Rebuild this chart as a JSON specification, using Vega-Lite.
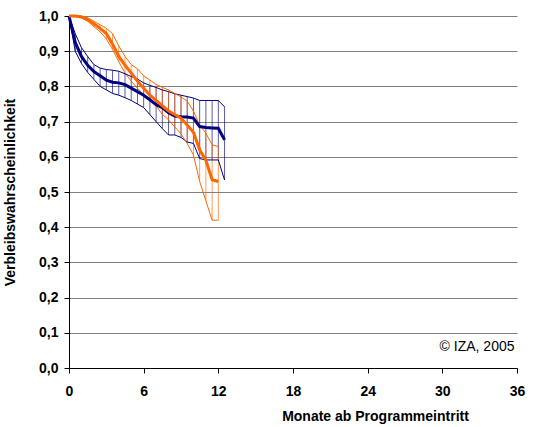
{
  "$schema": "https://vega.github.io/schema/vega-lite/v6.json",
  "width": 448,
  "height": 352,
  "autosize": "none",
  "padding": {"left": 69, "top": 16, "right": 19, "bottom": 59},
  "background": "white",
  "config": {
    "view": {"stroke": null},
    "axis": {
      "labelFont": "Liberation Sans",
      "labelFontWeight": "bold",
      "labelFontSize": 14,
      "labelColor": "#000000",
      "titleFont": "Liberation Sans",
      "titleFontWeight": "bold",
      "titleFontSize": 14,
      "titleColor": "#000000",
      "domainColor": "#000000",
      "tickColor": "#000000",
      "tickSize": 5
    }
  },
  "data": {
    "values": [
      {"s": "A", "m": 0, "lo": 1.0, "mid": 1.0, "hi": 1.0},
      {"s": "A", "m": 0.5, "lo": 0.9, "mid": 0.925, "hi": 0.95},
      {"s": "A", "m": 1.0, "lo": 0.865, "mid": 0.885, "hi": 0.91},
      {"s": "A", "m": 1.5, "lo": 0.84, "mid": 0.86, "hi": 0.885},
      {"s": "A", "m": 2.0, "lo": 0.82, "mid": 0.842, "hi": 0.862},
      {"s": "A", "m": 2.5, "lo": 0.8, "mid": 0.83, "hi": 0.852},
      {"s": "A", "m": 3.0, "lo": 0.79, "mid": 0.818, "hi": 0.848},
      {"s": "A", "m": 3.5, "lo": 0.78, "mid": 0.812, "hi": 0.846},
      {"s": "A", "m": 4.0, "lo": 0.775, "mid": 0.81, "hi": 0.843},
      {"s": "A", "m": 4.5, "lo": 0.768, "mid": 0.805, "hi": 0.836},
      {"s": "A", "m": 5.0, "lo": 0.76, "mid": 0.795, "hi": 0.828},
      {"s": "A", "m": 5.5, "lo": 0.75, "mid": 0.785, "hi": 0.821},
      {"s": "A", "m": 6.0, "lo": 0.74, "mid": 0.775, "hi": 0.81},
      {"s": "A", "m": 6.5, "lo": 0.72, "mid": 0.762, "hi": 0.803},
      {"s": "A", "m": 7.0, "lo": 0.7, "mid": 0.748, "hi": 0.797},
      {"s": "A", "m": 7.5, "lo": 0.68, "mid": 0.74, "hi": 0.79},
      {"s": "A", "m": 8.0, "lo": 0.662, "mid": 0.725, "hi": 0.785},
      {"s": "A", "m": 8.5, "lo": 0.662, "mid": 0.716, "hi": 0.779},
      {"s": "A", "m": 9.0, "lo": 0.655, "mid": 0.714, "hi": 0.775},
      {"s": "A", "m": 9.5, "lo": 0.642, "mid": 0.713, "hi": 0.771},
      {"s": "A", "m": 10.0, "lo": 0.638, "mid": 0.71, "hi": 0.767},
      {"s": "A", "m": 10.5, "lo": 0.595, "mid": 0.686, "hi": 0.76},
      {"s": "A", "m": 11.0, "lo": 0.591, "mid": 0.683, "hi": 0.76},
      {"s": "A", "m": 11.5, "lo": 0.591, "mid": 0.682, "hi": 0.76},
      {"s": "A", "m": 12.0, "lo": 0.591, "mid": 0.681, "hi": 0.76},
      {"s": "A", "m": 12.5, "lo": 0.534, "mid": 0.648, "hi": 0.742},
      {"s": "B", "m": 0, "lo": 1.0, "mid": 1.0, "hi": 1.0},
      {"s": "B", "m": 0.5, "lo": 1.0, "mid": 1.0, "hi": 1.0},
      {"s": "B", "m": 1.0, "lo": 0.995, "mid": 0.997, "hi": 1.0},
      {"s": "B", "m": 1.5, "lo": 0.985, "mid": 0.99, "hi": 0.995},
      {"s": "B", "m": 2.0, "lo": 0.97, "mid": 0.978, "hi": 0.985},
      {"s": "B", "m": 2.5, "lo": 0.955, "mid": 0.965, "hi": 0.975},
      {"s": "B", "m": 3.0, "lo": 0.935, "mid": 0.95, "hi": 0.965},
      {"s": "B", "m": 3.5, "lo": 0.905, "mid": 0.92, "hi": 0.95},
      {"s": "B", "m": 4.0, "lo": 0.87, "mid": 0.885, "hi": 0.915},
      {"s": "B", "m": 4.5, "lo": 0.838, "mid": 0.86, "hi": 0.885},
      {"s": "B", "m": 5.0, "lo": 0.815, "mid": 0.838, "hi": 0.862},
      {"s": "B", "m": 5.5, "lo": 0.795, "mid": 0.815, "hi": 0.85},
      {"s": "B", "m": 6.0, "lo": 0.777, "mid": 0.795, "hi": 0.83},
      {"s": "B", "m": 6.5, "lo": 0.762, "mid": 0.775, "hi": 0.818},
      {"s": "B", "m": 7.0, "lo": 0.745, "mid": 0.76, "hi": 0.806},
      {"s": "B", "m": 7.5, "lo": 0.72, "mid": 0.745, "hi": 0.797},
      {"s": "B", "m": 8.0, "lo": 0.705, "mid": 0.73, "hi": 0.79},
      {"s": "B", "m": 8.5, "lo": 0.685, "mid": 0.72, "hi": 0.78},
      {"s": "B", "m": 9.0, "lo": 0.665, "mid": 0.71, "hi": 0.77},
      {"s": "B", "m": 9.5, "lo": 0.638, "mid": 0.69, "hi": 0.758},
      {"s": "B", "m": 10.0, "lo": 0.605, "mid": 0.67, "hi": 0.73},
      {"s": "B", "m": 10.5, "lo": 0.53, "mid": 0.62, "hi": 0.69},
      {"s": "B", "m": 11.0, "lo": 0.475, "mid": 0.59, "hi": 0.667},
      {"s": "B", "m": 11.5, "lo": 0.42, "mid": 0.535, "hi": 0.634},
      {"s": "B", "m": 12.0, "lo": 0.42, "mid": 0.53, "hi": 0.629}
    ]
  },
  "encoding": {
    "x": {
      "field": "m", "type": "quantitative",
      "scale": {"domain": [0, 36], "nice": false, "zero": false},
      "axis": {
        "values": [0, 6, 12, 18, 24, 30, 36],
        "grid": false,
        "title": "Monate ab Programmeintritt",
        "labelPadding": 11,
        "titleX": 306,
        "titleY": 52,
        "titleAlign": "center",
        "titleBaseline": "alphabetic",
        "labelFlush": false,
        "labelOverlap": false
      }
    },
    "color": {
      "field": "s", "type": "nominal",
      "scale": {"domain": ["A", "B"], "range": ["#000080", "#FF6600"]},
      "legend": null
    }
  },
  "layer": [
    {
      "mark": {"type": "rule", "strokeWidth": 1, "opacity": 0.65},
      "encoding": {
        "y": {
          "field": "lo", "type": "quantitative",
          "scale": {"domain": [0, 1], "nice": false},
          "axis": {
            "values": [0, 0.1, 0.2, 0.3, 0.4, 0.5, 0.6, 0.7, 0.8, 0.9, 1.0],
            "labelExpr": "replace(format(datum.value, '.1f'), '.', ',')",
            "grid": true, "gridColor": "#808080", "gridWidth": 1, "gridOpacity": 1,
            "title": "Verbleibswahrscheinlichkeit",
            "titleX": -59, "titleY": 176, "titleAlign": "center", "titleBaseline": "middle", "titleAngle": -90,
            "labelPadding": 6, "labelFlush": false, "labelOverlap": false
          }
        },
        "y2": {"field": "hi"}
      }
    },
    {
      "mark": {"type": "line", "strokeWidth": 1},
      "encoding": {
        "y": {
          "field": "lo", "type": "quantitative",
          "axis": {
            "values": [0, 0.1, 0.2, 0.3, 0.4, 0.5, 0.6, 0.7, 0.8, 0.9, 1.0],
            "labelExpr": "replace(format(datum.value, '.1f'), '.', ',')",
            "grid": true, "gridColor": "#808080", "gridWidth": 1, "gridOpacity": 1,
            "title": "Verbleibswahrscheinlichkeit",
            "titleX": -59, "titleY": 176, "titleAlign": "center", "titleBaseline": "middle", "titleAngle": -90,
            "labelPadding": 6, "labelFlush": false, "labelOverlap": false
          }
        },
        "detail": {"field": "s"}
      }
    },
    {
      "mark": {"type": "line", "strokeWidth": 1},
      "encoding": {
        "y": {
          "field": "hi", "type": "quantitative",
          "axis": {
            "values": [0, 0.1, 0.2, 0.3, 0.4, 0.5, 0.6, 0.7, 0.8, 0.9, 1.0],
            "labelExpr": "replace(format(datum.value, '.1f'), '.', ',')",
            "grid": true, "gridColor": "#808080", "gridWidth": 1, "gridOpacity": 1,
            "title": "Verbleibswahrscheinlichkeit",
            "titleX": -59, "titleY": 176, "titleAlign": "center", "titleBaseline": "middle", "titleAngle": -90,
            "labelPadding": 6, "labelFlush": false, "labelOverlap": false
          }
        },
        "detail": {"field": "s"}
      }
    },
    {
      "mark": {"type": "line", "strokeWidth": 3},
      "encoding": {
        "y": {
          "field": "mid", "type": "quantitative",
          "axis": {
            "values": [0, 0.1, 0.2, 0.3, 0.4, 0.5, 0.6, 0.7, 0.8, 0.9, 1.0],
            "labelExpr": "replace(format(datum.value, '.1f'), '.', ',')",
            "grid": true, "gridColor": "#808080", "gridWidth": 1, "gridOpacity": 1,
            "title": "Verbleibswahrscheinlichkeit",
            "titleX": -59, "titleY": 176, "titleAlign": "center", "titleBaseline": "middle", "titleAngle": -90,
            "labelPadding": 6, "labelFlush": false, "labelOverlap": false
          }
        },
        "detail": {"field": "s"}
      }
    },
    {
      "data": {"values": [{"m": 35.8, "v": 0.06, "t": "© IZA, 2005"}]},
      "mark": {"type": "text", "align": "right", "baseline": "middle", "font": "Liberation Sans", "fontSize": 14},
      "encoding": {
        "x": {"field": "m", "type": "quantitative"},
        "y": {
          "field": "v", "type": "quantitative",
          "axis": {
            "values": [0, 0.1, 0.2, 0.3, 0.4, 0.5, 0.6, 0.7, 0.8, 0.9, 1.0],
            "labelExpr": "replace(format(datum.value, '.1f'), '.', ',')",
            "grid": true, "gridColor": "#808080", "gridWidth": 1, "gridOpacity": 1,
            "title": "Verbleibswahrscheinlichkeit",
            "titleX": -59, "titleY": 176, "titleAlign": "center", "titleBaseline": "middle", "titleAngle": -90,
            "labelPadding": 6, "labelFlush": false, "labelOverlap": false
          }
        },
        "text": {"field": "t"},
        "color": {"value": "#000000"}
      }
    }
  ]
}
